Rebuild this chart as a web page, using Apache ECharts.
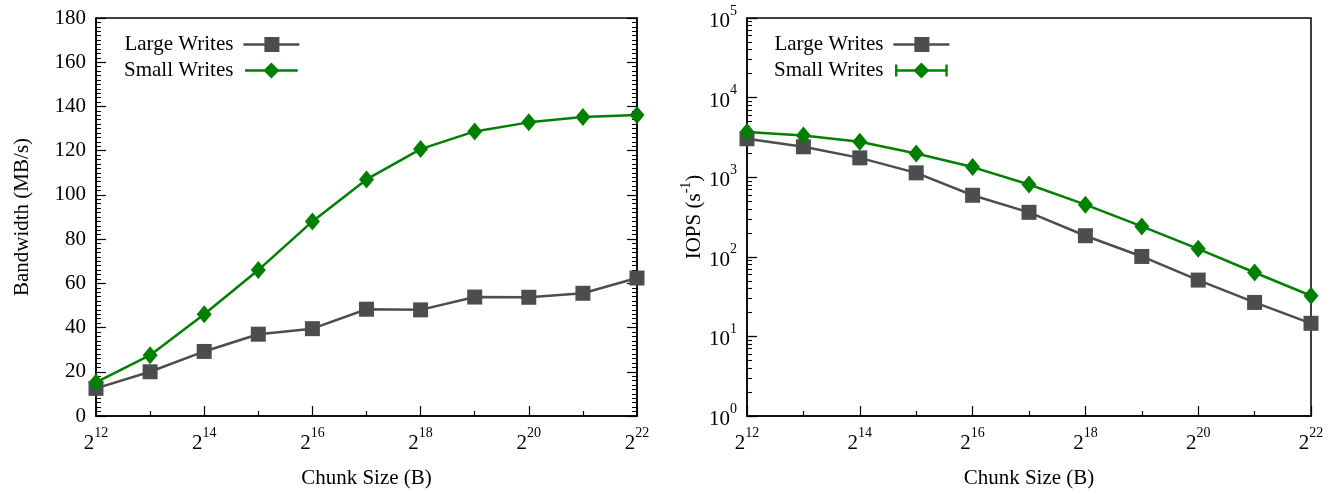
<!DOCTYPE html>
<html><head><meta charset="utf-8">
<script src="https://cdn.jsdelivr.net/npm/echarts@6/dist/echarts.min.js"></script>
<style>html,body{margin:0;padding:0;background:#fff}#c{width:1335px;height:494px}</style>
</head><body><div id="c"></div>
<script>
// chunk size = 2^exponent bytes
const exponents = [12, 13, 14, 15, 16, 17, 18, 19, 20, 21, 22];
// Bandwidth (MB/s)
const bwLarge = [12.5, 20.0, 29.2, 37.0, 39.5, 48.3, 48.0, 53.8, 53.7, 55.5, 62.4];
const bwSmall = [15.2, 27.5, 46.0, 66.0, 88.0, 107.0, 120.7, 128.7, 132.8, 135.2, 136.1];
// IOPS (1/s)
const iopsLarge = [3040, 2410, 1750, 1134, 593, 362, 184, 101, 51, 26.7, 14.6];
const iopsSmall = [3690, 3350, 2790, 1990, 1340, 809, 452, 241, 126, 63.5, 32.4];
// tick labels
const xTickExponents = [12, 14, 16, 18, 20, 22];
const logDecades = 5;                       // 10^0 .. 10^5

const FONT = 'Liberation Serif';
const GRAY = '#4d4d4d';
const GREEN = '#008000';
const FS = 21;

const ICON_LARGE = 'path://M0,6.75L56,6.75L56,9.25L0,9.25Z M21,0.5L36,0.5L36,15.5L21,15.5Z';
const ICON_SMALL = 'path://M0,6.75L56,6.75L56,9.25L0,9.25Z M28,-0.5L36.5,8L28,16.5L19.5,8Z';
const ICON_SMALL_ERR = 'path://M0,6.75L56,6.75L56,9.25L0,9.25Z M28,-0.5L36.5,8L28,16.5L19.5,8Z M0,1.5L2.5,1.5L2.5,14.5L0,14.5Z M53.5,1.5L56,1.5L56,14.5L53.5,14.5Z';

const pair = arr => exponents.map((e, i) => [e, arr[i]]);
const supRich = {
  b: {fontFamily: FONT, fontSize: FS, color: '#000', lineHeight: 28, verticalAlign: 'bottom'},
  s: {fontFamily: FONT, fontSize: 14, color: '#000', lineHeight: 14, verticalAlign: 'top'}
};

function xAxisFor(gi) {
  return {
    type: 'value', gridIndex: gi, min: 12, max: 22, interval: 2,
    axisLine: {show: true, onZero: false, lineStyle: {color: '#000', width: 1.5}},
    axisTick: {show: true, inside: true, length: 10, lineStyle: {color: '#000', width: 1.2}},
    minorTick: {show: true, splitNumber: 2, length: 5, lineStyle: {color: '#000', width: 1.2}},
    splitLine: {show: false},
    axisLabel: {
      margin: 10,
      formatter: v => xTickExponents.indexOf(v) >= 0 ? '{b|2}{s|' + v + '}' : '',
      rich: supRich
    },
    name: 'Chunk Size (B)', nameLocation: 'middle', nameGap: 52,
    nameTextStyle: {fontFamily: FONT, fontSize: FS, color: '#000'}
  };
}

function lineSeries(name, data, xi, yi, color, symbol, size) {
  return {
    type: 'line', name, data, xAxisIndex: xi, yAxisIndex: yi, clip: false,
    symbol, symbolSize: size, showSymbol: true,
    lineStyle: {color, width: 2.5},
    itemStyle: {color, borderWidth: 0},
    emphasis: {disabled: true},
    animation: false
  };
}

const chart = echarts.init(document.getElementById('c'), null, {renderer: 'canvas'});
chart.setOption({
  animation: false,
  backgroundColor: '#fff',
  grid: [
    {left: 96, right: 698, top: 18, bottom: 77, show: true, borderColor: '#000', borderWidth: 1.5, containLabel: false},
    {left: 747, right: 24, top: 18, bottom: 77, show: true, borderColor: '#000', borderWidth: 1.5, containLabel: false}
  ],
  legend: [
    {
      orient: 'vertical', align: 'right', left: 119, top: 29, itemGap: 5,
      itemWidth: 56, itemHeight: 16, selectedMode: false,
      textStyle: {fontFamily: FONT, fontSize: FS, color: '#000', padding: [0, 5, 0, 0]},
      itemStyle: {borderWidth: 0},
      data: [{name: 'Large Writes', icon: ICON_LARGE}, {name: 'Small Writes', icon: ICON_SMALL}]
    },
    {
      orient: 'vertical', align: 'right', left: 769, top: 29, itemGap: 5,
      itemWidth: 56, itemHeight: 16, selectedMode: false,
      textStyle: {fontFamily: FONT, fontSize: FS, color: '#000', padding: [0, 5, 0, 0]},
      itemStyle: {borderWidth: 0},
      data: [{name: 'Large Writes', icon: ICON_LARGE}, {name: 'Small Writes', icon: ICON_SMALL_ERR}]
    }
  ],
  xAxis: [xAxisFor(0), xAxisFor(1)],
  yAxis: [
    {
      type: 'value', gridIndex: 0, min: 0, max: 180, interval: 20, position: 'left',
      axisLine: {show: true, lineStyle: {color: '#000', width: 1.5}},
      axisTick: {show: true, inside: true, length: 10, lineStyle: {color: '#000', width: 1.2}},
      minorTick: {show: true, splitNumber: 10, length: 5, lineStyle: {color: '#000', width: 1}},
      splitLine: {show: false},
      axisLabel: {margin: 10, fontFamily: FONT, fontSize: FS, color: '#000'},
      name: 'Bandwidth (MB/s)', nameLocation: 'middle', nameGap: 63,
      nameTextStyle: {fontFamily: FONT, fontSize: FS, color: '#000'}
    },
    {
      type: 'value', gridIndex: 0, min: 0, max: 180, interval: 20, position: 'right',
      axisLine: {show: true, lineStyle: {color: '#000', width: 1.5}},
      axisTick: {show: true, inside: true, length: 10, lineStyle: {color: '#000', width: 1.2}},
      minorTick: {show: true, splitNumber: 10, length: 5, lineStyle: {color: '#000', width: 1}},
      splitLine: {show: false},
      axisLabel: {show: false}
    },
    {
      type: 'log', logBase: 10, gridIndex: 1, min: 1, max: Math.pow(10, logDecades), position: 'left',
      axisLine: {show: true, lineStyle: {color: '#000', width: 1.5}},
      axisTick: {show: true, inside: true, length: 10, lineStyle: {color: '#000', width: 1.3}},
      minorTick: {show: true, splitNumber: 9, length: 5, lineStyle: {color: '#000', width: 1.1}},
      splitLine: {show: false},
      axisLabel: {
        margin: 10,
        formatter: v => '{b|10}{s|' + Math.round(Math.log10(v)) + '}',
        rich: supRich
      },
      name: '{n|IOPS (s}{s|-1}{n|)}', nameLocation: 'middle', nameGap: 40,
      nameTextStyle: {
        rich: {
          n: {fontFamily: FONT, fontSize: FS, color: '#000', lineHeight: 26, verticalAlign: 'bottom'},
          s: {fontFamily: FONT, fontSize: 14, color: '#000', lineHeight: 14, verticalAlign: 'top'}
        }
      }
    }
  ],
  series: [
    lineSeries('Large Writes', pair(bwLarge), 0, 0, GRAY, 'rect', 15),
    lineSeries('Small Writes', pair(bwSmall), 0, 0, GREEN, 'diamond', [15, 18]),
    lineSeries('Large Writes', pair(iopsLarge), 1, 2, GRAY, 'rect', 15),
    lineSeries('Small Writes', pair(iopsSmall), 1, 2, GREEN, 'diamond', [15, 18])
  ]
});
</script></body></html>
